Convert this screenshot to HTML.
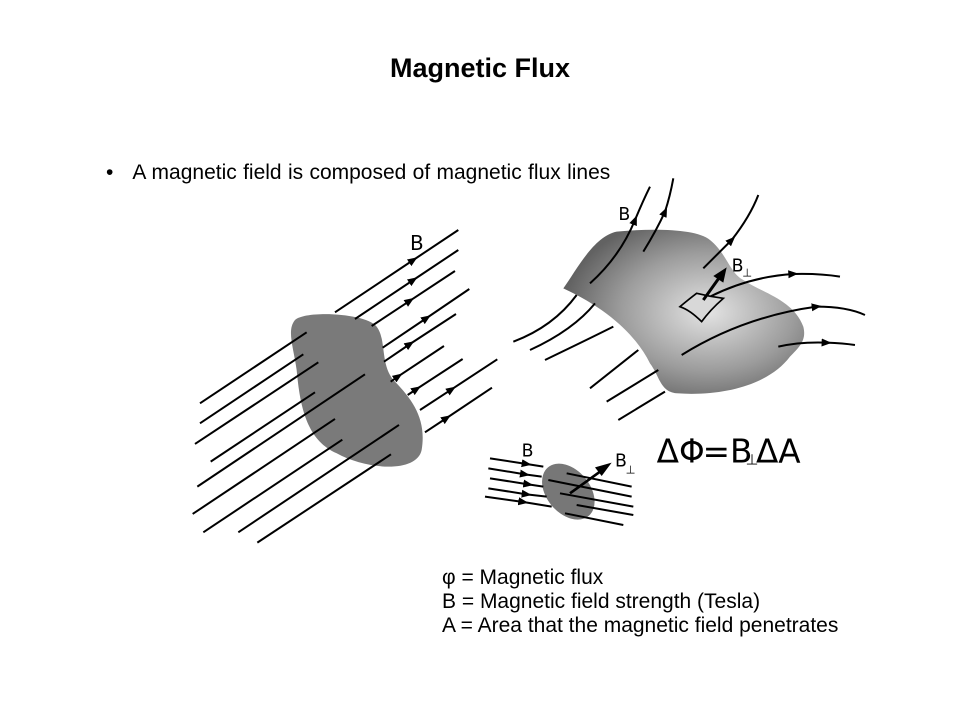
<!DOCTYPE html>
<html><head><meta charset="utf-8"><style>
body{margin:0;background:#fff;}
.t{position:absolute;font-family:"Liberation Sans",sans-serif;color:#000;}
</style></head><body>
<div style="position:relative;width:960px;height:720px;overflow:hidden;">
<div class="t" style="left:0;width:960px;top:53px;text-align:center;font-size:27px;font-weight:bold;">Magnetic Flux</div>
<div class="t" style="left:106px;top:160px;font-size:21px;line-height:26px;word-spacing:0.5px;">•&nbsp;&nbsp;&nbsp;A magnetic field is composed of magnetic flux lines</div>
<div class="t" style="left:442px;top:566px;font-size:21px;line-height:24px;">φ = Magnetic flux<br>B = Magnetic field strength (Tesla)<br>A = Area that the magnetic field penetrates</div>
<svg width="960" height="720" style="position:absolute;left:0;top:0" xmlns="http://www.w3.org/2000/svg">
<defs>
<marker id="a" viewBox="0 0 10 10" refX="5" refY="5" markerWidth="5" markerHeight="5" orient="auto"><path d="M0,1 L10,5 L0,9 Z" fill="#000"/></marker>
<radialGradient id="g" cx="0.6" cy="0.5" r="0.6"><stop offset="0" stop-color="#e4e4e4"/><stop offset="0.6" stop-color="#9c9c9c"/><stop offset="1" stop-color="#626262"/></radialGradient>
</defs>
<g transform="translate(180,220) scale(0.3333)" stroke="#000" stroke-width="6" fill="none">
<path d="M345,300 C380,270 560,280 590,320 C620,360 600,430 640,480 C700,540 740,600 725,690 C710,760 560,750 470,700 C380,660 360,560 350,450 C340,380 320,330 345,300 Z" fill="#7a7a7a" stroke="none"/>
<line x1="60" y1="550" x2="380" y2="337"/><line x1="60" y1="610" x2="370" y2="403"/>
<line x1="45" y1="672" x2="415" y2="427"/><line x1="92" y1="725" x2="405" y2="517"/>
<line x1="52" y1="800" x2="555" y2="463"/><line x1="38" y1="882" x2="465" y2="597"/>
<line x1="70" y1="937" x2="487" y2="659"/><line x1="175" y1="937" x2="657" y2="615"/>
<line x1="232" y1="968" x2="633" y2="703"/>
<path d="M465,277 L700,120 L835,30" marker-mid="url(#a)"/>
<path d="M525,297 L700,180 L835,90" marker-mid="url(#a)"/>
<path d="M575,318 L690,242 L825,153" marker-mid="url(#a)"/>
<path d="M608,383 L740,294 L868,207" marker-mid="url(#a)"/>
<path d="M612,425 L690,372 L828,282" marker-mid="url(#a)"/>
<path d="M632,485 L655,469 L792,378" marker-mid="url(#a)"/>
<path d="M683,525 L710,507 L848,417" marker-mid="url(#a)"/>
<path d="M720,570 L815,508 L952,418" marker-mid="url(#a)"/>
<path d="M735,637 L800,594 L936,503" marker-mid="url(#a)"/>
<text x="690" y="90" font-family="DejaVu Sans,sans-serif" font-size="60" fill="#000" stroke="none">B</text>
</g>
<g transform="translate(510,170) scale(0.3333)" stroke="#000" stroke-width="6" fill="none">
<path d="M160,355 C200,300 250,200 320,185 C420,175 560,175 600,210 C650,250 660,310 700,330 C760,370 850,390 880,470 C890,510 870,530 840,560 C780,640 650,680 500,670 C450,665 450,620 420,580 C380,500 300,420 160,355 Z" fill="url(#g)" stroke="none"/>
<path d="M10,515 Q130,470 200,375"/><path d="M60,540 Q190,480 255,400"/><path d="M105,570 Q230,510 310,470"/>
<line x1="240" y1="655" x2="385" y2="540"/><line x1="290" y1="695" x2="445" y2="600"/><line x1="325" y1="750" x2="465" y2="665"/>
<path d="M240,340 Q330,260 375,150" marker-end="url(#a)"/><path d="M375,150 Q400,90 420,50"/>
<path d="M400,245 Q440,180 465,125" marker-end="url(#a)"/><path d="M465,125 Q480,80 490,25"/>
<path d="M580,295 L665,210" marker-end="url(#a)"/><path d="M665,210 Q720,140 745,75"/>
<path d="M600,380 Q720,320 850,312" marker-end="url(#a)"/><path d="M850,312 Q930,310 990,320"/>
<path d="M515,555 Q700,440 920,410" marker-end="url(#a)"/><path d="M920,410 Q1010,410 1065,435"/>
<path d="M805,530 Q870,515 950,518" marker-end="url(#a)"/><path d="M950,518 Q1000,520 1035,525"/>
<path d="M510,410 Q540,385 560,370 Q600,380 640,385 Q600,420 575,455 Q540,420 510,410 Z" fill="#d8d8d8" stroke-width="5"/>
<line x1="580" y1="390" x2="630" y2="320" stroke-width="9"/>
<path d="M650,292 L610,318 L640,338 Z" fill="#000" stroke="none"/>
<text x="325" y="150" font-family="DejaVu Sans,sans-serif" font-size="52" fill="#000" stroke="none">B</text>
<text x="665" y="305" font-family="DejaVu Sans,sans-serif" font-size="52" fill="#000" stroke="none">B</text>
<text x="697" y="320" font-family="DejaVu Sans,sans-serif" font-size="34" fill="#000" stroke="none">⊥</text>
<g font-family="DejaVu Sans,sans-serif" font-size="98" fill="#000" stroke="none">
<text x="440" y="878">ΔΦ</text>
<text x="578" y="878">=</text>
<text x="660" y="878">B</text>
<text x="707" y="884" font-size="44">⊥</text>
<text x="738" y="878">ΔA</text>
</g>
</g>
<g transform="translate(480,430) scale(0.3333)" stroke="#000" stroke-width="6" fill="none">
<ellipse cx="265" cy="185" rx="95" ry="65" transform="rotate(50 265 185)" fill="#777" stroke="none"/>
<path d="M30,85 L140,102 L190,110" marker-mid="url(#a)"/>
<path d="M25,115 L135,133 L185,140" marker-mid="url(#a)"/>
<path d="M30,145 L145,163 L190,170" marker-mid="url(#a)"/>
<path d="M25,175 L140,193 L200,200" marker-mid="url(#a)"/>
<path d="M15,200 L130,216 L215,230" marker-mid="url(#a)"/>
<line x1="260" y1="130" x2="455" y2="170"/><line x1="205" y1="150" x2="455" y2="200"/>
<line x1="240" y1="190" x2="460" y2="230"/><line x1="290" y1="225" x2="460" y2="255"/>
<line x1="255" y1="250" x2="430" y2="285"/>
<line x1="270" y1="190" x2="360" y2="125" stroke-width="8"/>
<path d="M395,98 L345,112 L365,138 Z" fill="#000" stroke="none"/>
<text x="125" y="80" font-family="DejaVu Sans,sans-serif" font-size="52" fill="#000" stroke="none">B</text>
<text x="405" y="110" font-family="DejaVu Sans,sans-serif" font-size="52" fill="#000" stroke="none">B</text>
<text x="437" y="130" font-family="DejaVu Sans,sans-serif" font-size="34" fill="#000" stroke="none">⊥</text>
</g>
</svg>
</div>
</body></html>
